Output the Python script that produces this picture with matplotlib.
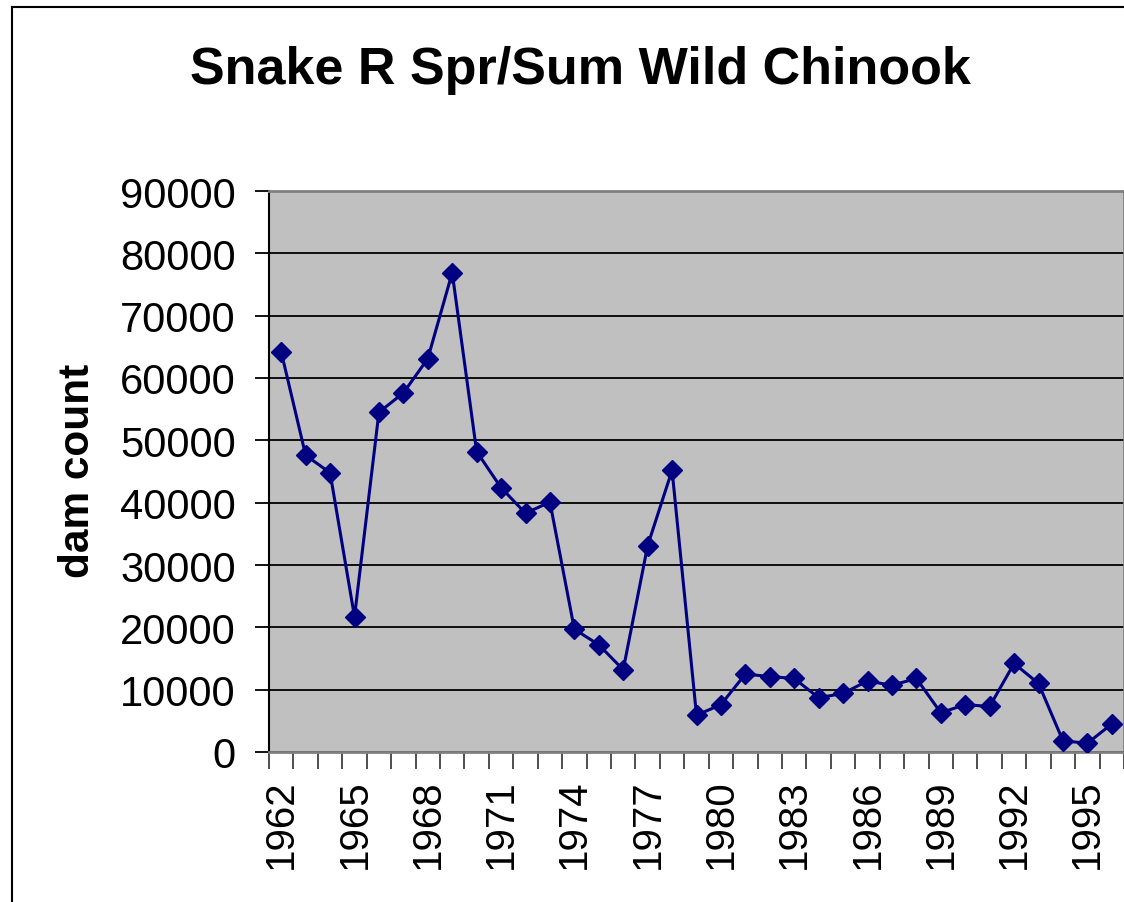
import numpy as np
import matplotlib.pyplot as plt
from matplotlib.lines import Line2D

plt.rcParams['font.family'] = ['Liberation Sans', 'DejaVu Sans']

years = list(range(1962, 1997))
counts = [64200, 47600, 44800, 21700, 54500, 57600, 63100, 76900, 48200, 42400,
          38300, 40100, 19700, 17200, 13200, 33100, 45200, 5900, 7600, 12500,
          12100, 11800, 8700, 9400, 11400, 10700, 11800, 6300, 7600, 7300,
          14200, 11000, 1800, 1400, 4500]
yticks = list(range(0, 90001, 10000))

fig = plt.figure(figsize=(11.24, 9.03), dpi=100)
ax = fig.add_axes([269 / 1124, 1 - 753 / 903, 855 / 1124, (753 - 192) / 903])
ax.set_facecolor('#c0c0c0')

x = np.arange(len(years))
ax.plot(x, counts, color='#000080', linewidth=2.2, marker='D', markersize=10,
        markerfacecolor='#000080', markeredgecolor='#000080', zorder=3)

ax.set_xlim(-0.5, len(years) - 0.5)
ax.set_ylim(0, 90000)
ax.set_yticks(yticks)
ax.set_yticklabels([str(v) for v in yticks], fontsize=30)
ax.yaxis.grid(True, color='black', linewidth=1.3)
ax.set_axisbelow(True)
ax.tick_params(axis='y', length=10, width=1.3, color='black', pad=14)

# labels every 3 years, tick marks between categories
ax.set_xticks(x[::3])
ax.set_xticklabels([str(years[i]) for i in x[::3]], rotation=90, fontsize=29)
ax.set_xticks(np.arange(-0.5, len(years)), minor=True)
ax.tick_params(axis='x', which='major', length=0, pad=19)
ax.tick_params(axis='x', which='minor', length=12, width=1.3, color='#404040')

for side in ['top', 'right', 'bottom']:
    ax.spines[side].set_color('#808080')
    ax.spines[side].set_linewidth(2)
ax.spines['left'].set_color('black')
ax.spines['left'].set_linewidth(1.5)

fig.text(0.516, 0.922, 'Snake R Spr/Sum Wild Chinook', ha='center', va='center',
         fontsize=37.5, fontweight='bold')
fig.text(0.069, 0.478, 'dam count', ha='center', va='center', rotation=90,
         fontsize=30.5, fontweight='bold')

# outer chart border (left and top visible)
fig.add_artist(Line2D([12 / 1124, 12 / 1124], [0, 1 - 8 / 903], transform=fig.transFigure,
                      color='black', linewidth=1.5))
fig.add_artist(Line2D([12 / 1124, 1], [1 - 8 / 903, 1 - 8 / 903], transform=fig.transFigure,
                      color='black', linewidth=1.5))

fig.savefig('out.png', dpi=100)
